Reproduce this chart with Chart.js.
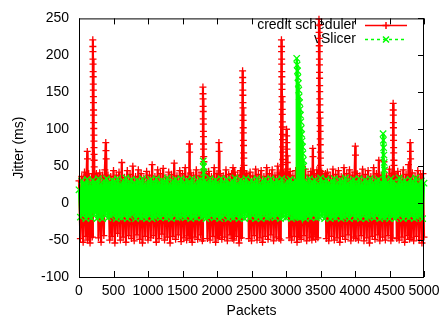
<!DOCTYPE html>
<html>
<head>
<meta charset="utf-8">
<title>Jitter – credit scheduler vs vSlicer</title>
<script src="https://cdn.jsdelivr.net/npm/chart.js@4.4.1/dist/chart.umd.min.js"></script>
<style>
  html, body { margin: 0; padding: 0; background: #fff; }
  canvas { display: block; }
</style>
</head>
<body>
<canvas id="chartJitter" width="446" height="324"></canvas>
<script>
// --- Data: [packet, jitter ms] ---
const creditScheduler = [
  [0,30],[20,-48],[40,36],[60,-53],[80,42],[100,-45],[110,38],[120,70],[123,60],[126,-50],[140,40],[160,-54],[180,35],[192,-46],
  [200,221],[201,212],[202,205],[203,195],[204,188],[205,178],[206,171],[207,161],[208,153],[209,144],[210,136],[211,126],[212,119],[213,109],[214,101],[215,92],[216,84],[217,75],[218,66],[219,58],[220,49],[222,40],[224,31],
  [232,38],[242,6],[252,40],[262,10],[272,36],
  [282,-47],[300,41],[320,-53],[340,38],[360,-44],[375,45],[388,82],[391,71],[394,60],[398,30],
  [410,5],[420,38],[432,8],[445,-50],
  [460,36],[480,-45],[500,44],[520,-54],[540,38],[560,-41],[580,42],[600,-50],[620,55],[640,-46],[660,35],[680,-53],[700,44],[720,-44],[740,39],[760,-48],[780,50],[800,-51],[820,36],[840,-43],[860,45],[880,-49],[900,40],[920,-54],[940,34],[960,-45],[980,43],[1000,-50],
  [1020,38],[1040,-47],[1060,52],[1080,-44],[1100,36],[1120,-53],[1140,45],[1160,-48],[1180,40],[1200,-42],[1220,47],[1240,-50],[1260,35],[1280,-46],[1300,42],[1320,-54],[1340,39],[1360,-45],[1380,54],[1400,-49],[1420,37],[1440,-43],[1460,44],[1480,-52],[1500,40],[1520,-47],[1540,48],[1560,-50],[1580,36],[1592,-44],[1600,80],[1603,69],[1608,-48],[1620,41],[1640,-53],[1660,38],[1680,-46],[1700,45],[1720,-49],[1740,37],[1760,-43],[1775,42],[1788,-51],
  [1796,157],[1797,148],[1798,141],[1799,131],[1800,124],[1801,114],[1802,107],[1803,97],[1804,90],[1805,80],[1806,73],[1808,63],[1810,56],[1812,46],[1814,39],[1816,30],
  [1824,36],[1834,8],[1844,40],[1852,6],
  [1862,-48],[1880,43],[1900,-50],[1920,36],[1940,-45],[1960,48],[1980,-53],[2000,40],[2015,-47],[2028,82],[2031,70],[2036,-44],[2050,40],[2070,-49],[2090,37],[2110,-46],[2130,45],[2150,-51],[2170,39],[2190,-43],[2210,40],[2220,-48],[2232,48],[2244,-50],[2260,42],[2280,-45],[2300,38],[2320,-54],[2340,44],[2352,-47],[2362,38],
  [2371,179],[2372,170],[2373,163],[2374,153],[2375,146],[2376,136],[2377,129],[2378,119],[2379,112],[2380,102],[2381,95],[2382,85],[2384,78],[2386,68],[2388,61],[2390,51],[2392,44],[2394,34],
  [2402,38],[2414,8],[2426,40],[2438,6],[2450,36],
  [2462,-48],[2480,42],[2500,-51],[2520,37],[2540,-44],[2560,46],[2580,-50],[2600,39],[2620,-47],[2640,44],[2660,-53],[2680,36],[2700,-45],[2720,48],[2740,-49],[2760,40],[2780,-43],[2800,45],[2820,-51],[2840,38],[2860,-46],[2880,50],[2900,-48],[2912,41],[2924,-50],
  [2934,221],[2935,212],[2936,205],[2937,195],[2938,188],[2939,178],[2940,171],[2941,161],[2942,154],[2943,144],[2944,137],[2945,127],[2946,120],[2947,110],[2948,103],[2949,93],[2950,86],[2951,76],[2952,69],[2953,59],[2954,52],[2955,42],[2956,33],
  [2964,38],[2976,8],[2988,40],[2998,6],
  [3008,100],[3010,91],[3012,82],[3014,73],[3016,64],[3018,55],[3020,46],[3028,10],[3036,38],
  [3046,-47],[3060,43],[3080,-50],[3100,37],[3120,-45],[3140,44],[3160,-53],[3180,39],[3192,-46],[3200,42],[3202,-25],[3206,38],[3220,-49],[3240,36],[3260,-44],[3280,46],[3300,-51],[3320,38],[3340,-47],[3360,43],[3375,-50],[3388,74],[3391,63],[3396,-45],[3410,40],[3430,-49],[3448,45],[3462,-47],[3472,38],
  [3478,249],[3479,241],[3480,231],[3481,223],[3482,213],[3483,205],[3484,195],[3485,187],[3486,177],[3487,169],[3488,159],[3489,151],[3490,141],[3491,133],[3492,123],[3493,115],[3494,105],[3495,97],[3496,87],[3497,79],[3498,69],[3499,61],[3500,51],[3502,43],[3504,33],
  [3512,38],[3522,8],[3532,40],[3542,5],[3552,36],[3562,10],[3572,40],
  [3584,-48],[3600,42],[3620,-51],[3640,37],[3660,-45],[3680,46],[3700,-50],[3720,39],[3740,-47],[3760,44],[3780,-53],[3800,36],[3820,-45],[3840,48],[3860,-49],[3880,40],[3900,-43],[3920,45],[3940,-51],[3960,38],[3980,-46],[3995,42],[4004,77],[4007,65],[4012,-48],
  [4030,40],[4050,-50],[4070,37],[4090,-44],[4110,46],[4130,-51],[4150,39],[4170,-47],[4190,44],[4210,-54],[4230,36],[4250,-45],[4270,48],[4290,-49],[4310,40],[4330,-43],[4345,58],[4360,-51],[4380,38],[4400,-46],[4420,56],[4440,-50],[4460,37],[4480,-44],[4500,46],[4520,-51],[4535,40],[4545,-47],
  [4553,135],[4554,126],[4555,119],[4556,109],[4557,102],[4558,92],[4559,85],[4560,75],[4561,68],[4563,58],[4565,51],[4567,41],[4569,34],
  [4576,38],[4586,8],[4596,36],
  [4606,-48],[4620,43],[4640,-50],[4660,37],[4680,-46],[4700,45],[4720,-53],[4740,39],[4760,-44],[4775,52],[4790,-49],[4800,82],[4803,70],[4806,60],[4812,-47],[4830,41],[4850,-51],[4870,36],[4890,-45],[4910,44],[4930,-50],[4950,39],[4970,-54],[4985,40],[5000,-46]
];

const vSlicer = [
  [0,18],[20,-19],[40,30],[60,-16],[80,27],[100,-21],[120,32],[140,-18],[160,25],[180,-20],[200,31],[220,-15],[240,28],[260,-21],[280,33],[300,-19],[320,26],[340,-21],[360,30],[380,-17],[400,33],[420,-20],[440,27],[460,-18],[480,31],[500,-16],
  [520,29],[540,-21],[560,33],[580,-19],[600,26],[620,-20],[640,30],[660,-17],[680,34],[700,-21],[720,28],[740,-18],[760,32],[780,-15],[800,27],[820,-21],[840,31],[860,-18],[880,29],[900,-20],[920,33],[940,-19],[960,26],[980,-21],[1000,30],
  [1020,-16],[1040,32],[1060,-21],[1080,28],[1100,-19],[1120,33],[1140,-18],[1160,27],[1180,-20],[1200,31],[1220,-17],[1240,29],[1260,-20],[1280,34],[1300,-19],[1320,26],[1340,-21],[1360,30],[1380,-16],[1400,32],[1420,-20],[1440,28],[1460,-19],[1480,33],[1500,-18],
  [1520,27],[1540,-20],[1560,31],[1580,-17],[1600,29],[1620,-21],[1640,33],[1660,-19],[1680,26],[1700,-20],[1720,30],[1740,-16],[1760,32],[1780,-20],[1792,28],[1798,-18],[1800,57],[1802,22],[1804,49],[1806,-12],[1808,41],[1810,18],[1812,-17],
  [1825,30],[1840,-21],[1860,27],[1880,-19],[1900,33],[1920,-17],[1940,29],[1960,-20],[1980,31],[2000,-18],[2020,26],[2040,-21],[2060,33],[2080,-19],[2100,28],[2120,-16],[2140,32],[2160,-21],[2180,27],[2200,-19],[2220,30],[2240,-20],[2260,34],[2280,-17],[2300,26],[2320,-21],[2340,31],[2360,-19],[2380,29],[2400,-21],[2420,33],[2440,-18],[2460,27],[2480,-20],[2500,31],
  [2520,-16],[2540,28],[2560,-21],[2580,33],[2600,-19],[2620,26],[2640,-21],[2660,30],[2680,-17],[2700,32],[2720,-20],[2740,28],[2760,-19],[2780,33],[2800,-18],[2820,27],[2840,-20],[2860,31],[2880,-16],[2900,29],[2920,-21],[2940,33],[2960,-19],[2980,26],[3000,-20],
  [3020,30],[3040,-17],[3060,32],[3080,-21],[3100,28],[3120,-19],[3135,31],[3148,-18],
  [3155,196],[3158,-18],[3161,187],[3164,12],[3167,179],[3170,-15],[3173,170],[3176,20],[3179,162],[3182,-19],[3185,153],[3188,8],[3191,144],[3194,-16],[3197,136],[3200,24],[3203,127],[3206,-20],[3209,119],[3212,15],[3215,110],[3218,-17],[3221,101],[3224,5],[3227,93],[3230,-19],[3233,84],[3236,18],[3239,76],[3242,-14],[3245,67],[3248,22],[3251,58],[3254,-18],[3257,50],[3260,10],
  [3270,30],[3280,-21],[3300,27],[3320,-18],[3340,33],[3360,-20],[3380,29],[3400,-16],[3420,31],[3440,-20],[3460,26],[3480,-19],[3500,34],
  [3520,-18],[3540,28],[3560,-21],[3580,32],[3600,-16],[3620,27],[3640,-21],[3660,30],[3680,-19],[3700,33],[3720,-20],[3740,26],[3760,-17],[3780,31],[3800,-21],[3820,29],[3840,-19],[3860,34],[3880,-18],[3900,27],[3920,-21],[3940,30],[3960,-16],[3980,32],[4000,-20],
  [4020,28],[4040,-19],[4060,33],[4080,-21],[4100,26],[4120,-17],[4140,31],[4160,-21],[4180,29],[4200,-19],[4220,33],[4240,-18],[4260,27],[4280,-20],[4300,30],[4320,-16],[4340,32],[4360,-21],[4380,28],[4395,-19],
  [4404,-17],[4407,94],[4409,15],[4411,85],[4413,-10],[4415,75],[4417,20],[4419,65],[4421,-16],[4423,55],[4425,25],[4428,45],[4432,-20],
  [4445,31],[4460,-17],[4480,27],[4500,-21],[4520,33],[4540,-18],[4560,29],[4580,-21],[4600,26],[4620,-19],[4640,34],[4660,-16],[4680,28],[4700,-21],[4720,31],[4740,-18],[4760,27],[4780,-20],[4800,32],[4820,-17],[4840,29],[4860,-21],[4880,34],[4900,-19],[4920,26],[4940,-18],[4960,30],[4980,-21],[5000,27]
];

const seriesNames = ["credit scheduler", "vSlicer"];
const seriesColors = ["#ff0000", "#00ff00"];
const xRange = [0, 5000];
const yRange = [-100, 250];

const FONT = '"Liberation Sans", Arial, Helvetica, sans-serif';
Chart.defaults.font.family = FONT;
Chart.defaults.font.size = 14;
Chart.defaults.color = "#000";

const toPoints = (rows) => rows.map(([x, y]) => ({ x, y }));

// --- Key drawn inside the plot, top right (gnuplot style) ---
const keyPlugin = {
  id: "gnuplotKey",
  beforeDatasetsDraw(chart) {
    const { ctx } = chart;
    const rows = [
      { y: 25, color: seriesColors[0], dash: [], mark: "plus" },
      { y: 39, color: seriesColors[1], dash: [3, 3], mark: "x" },
    ];
    ctx.save();
    ctx.font = "14px " + FONT;
    ctx.textAlign = "right";
    ctx.textBaseline = "middle";
    rows.forEach((r, i) => {
      ctx.fillStyle = "#000";
      ctx.fillText(seriesNames[i], 356, r.y + 0.5);
      ctx.strokeStyle = r.color;
      ctx.lineWidth = 1.5;
      ctx.setLineDash(r.dash);
      ctx.beginPath();
      ctx.moveTo(365, r.y + 0.5);
      ctx.lineTo(407, r.y + 0.5);
      ctx.stroke();
      ctx.setLineDash([]);
      ctx.beginPath();
      if (r.mark === "plus") {
        ctx.moveTo(382.5, r.y + 0.5);
        ctx.lineTo(389.5, r.y + 0.5);
        ctx.moveTo(386, r.y - 3);
        ctx.lineTo(386, r.y + 4);
      } else {
        ctx.moveTo(383, r.y - 2.5);
        ctx.lineTo(389, r.y + 3.5);
        ctx.moveTo(389, r.y - 2.5);
        ctx.lineTo(383, r.y + 3.5);
      }
      ctx.stroke();
    });
    ctx.restore();
  },
};

// --- Border box with inward tics (bottom, top, right) ---
const framePlugin = {
  id: "gnuplotFrame",
  afterDatasetsDraw(chart) {
    const { ctx, chartArea: a, scales } = chart;
    ctx.save();
    ctx.strokeStyle = "#000";
    ctx.lineWidth = 1;
    ctx.beginPath();
    scales.x.ticks.forEach((t) => {
      const px = Math.round(scales.x.getPixelForValue(t.value)) + 0.5;
      ctx.moveTo(px, a.bottom);
      ctx.lineTo(px, a.bottom - 6);
      ctx.moveTo(px, a.top);
      ctx.lineTo(px, a.top + 6);
    });
    scales.y.ticks.forEach((t) => {
      const py = Math.round(scales.y.getPixelForValue(t.value)) + 0.5;
      ctx.moveTo(a.right, py);
      ctx.lineTo(a.right - 6, py);
    });
    ctx.stroke();
    ctx.strokeRect(a.left + 0.5, a.top + 0.5, a.right - a.left - 1, a.bottom - a.top);
    ctx.restore();
  },
};

function makeChart(ctx, type, data, options) {
  return new Chart(ctx, { type, data, options, plugins: [keyPlugin, framePlugin] });
}

makeChart(
  document.getElementById("chartJitter"),
  "scatter",
  {
    datasets: [
      {
        label: seriesNames[0],
        data: toPoints(creditScheduler),
        showLine: true,
        borderColor: seriesColors[0],
        borderWidth: 2.2,
        pointStyle: "cross",
        pointRadius: 3.5,
        pointBorderColor: seriesColors[0],
        pointBorderWidth: 1.3,
        clip: false,
        order: 2,
      },
      {
        // dense enough that the dashes merge into a solid band, as in the original
        label: seriesNames[1],
        data: toPoints(vSlicer),
        showLine: true,
        borderColor: seriesColors[1],
        borderWidth: 2.4,
        pointStyle: "crossRot",
        pointRadius: 4.5,
        pointBorderColor: seriesColors[1],
        pointBorderWidth: 1.3,
        clip: false,
        order: 1,
      },
    ],
  },
  {
    responsive: false,
    animation: false,
    devicePixelRatio: 1,
    events: [],
    layout: { padding: { left: 0, right: 22, top: 11, bottom: 0 } },
    plugins: { legend: { display: false }, tooltip: { enabled: false } },
    scales: {
      x: {
        type: "linear",
        min: xRange[0],
        max: xRange[1],
        grid: { display: false, drawTicks: false },
        border: { display: false },
        ticks: { stepSize: 500, autoSkip: false, maxRotation: 0, padding: 6, callback: (v) => String(v) },
        title: { display: true, text: "Packets", padding: { top: 0, bottom: 4 } },
        afterFit: (s) => { s.height = 47; },
      },
      y: {
        type: "linear",
        min: yRange[0],
        max: yRange[1],
        grid: { display: false, drawTicks: false },
        border: { display: false },
        ticks: { stepSize: 50, padding: 10, callback: (v) => String(v) },
        title: { display: true, text: "Jitter (ms)", padding: { top: 11, bottom: 0 } },
        afterFit: (s) => { s.width = 79; },
      },
    },
  }
);
</script>
</body>
</html>
